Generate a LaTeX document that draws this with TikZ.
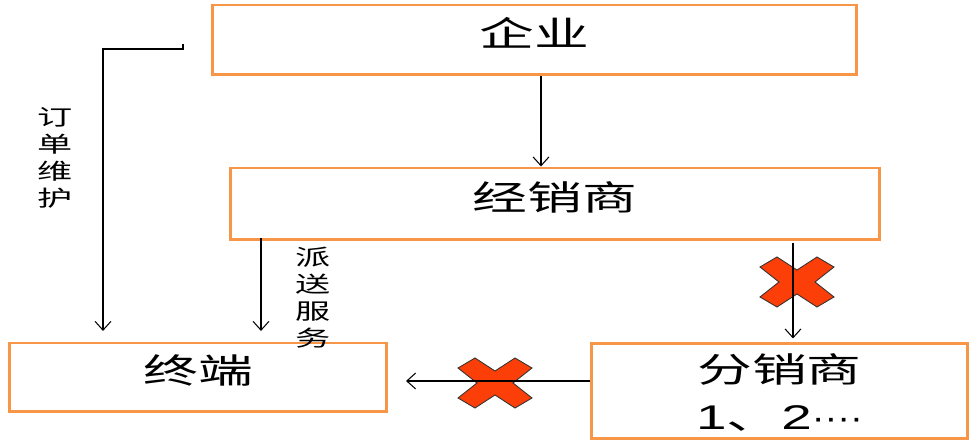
\documentclass[tikz,border=0pt]{standalone}
\usepackage{fontspec}
\newfontfamily\cjk{Noto Sans CJK SC}
\newfontfamily\latin{Liberation Sans}
\usepackage{xcolor}
\usetikzlibrary{arrows.meta,calc}

\definecolor{boxorange}{RGB}{247,150,70}
\definecolor{crossred}{RGB}{252,62,8}
\newcommand{\wide}[1]{\scalebox{1.6}[1]{#1}}
\newcommand{\boxtext}[1]{\raisebox{4pt}[\height][\depth]{\wide{#1}}}

\tikzset{
    box/.style={draw=boxorange, line width=1.7pt, align=center, inner sep=0pt,
        font={\cjk\fontsize{19.5}{26.7}\selectfont}},
    lbl/.style={align=center, inner sep=0pt, font={\cjk\fontsize{12.5}{15.4}\selectfont}},
    arr/.style={-{Straight Barb[length=5pt,width=9pt]}, line width=0.6pt},
    nogo/.pic={
        \filldraw[fill=crossred, draw=black!80, line width=0.5pt]
            (-37,-15) -- (-20,-25) -- (0,-12) -- (20,-25) -- (37,-15) -- (18,0)
            -- (37,15) -- (20,25) -- (0,12) -- (-20,25) -- (-37,15) -- (-18,0) -- cycle;
    }
}

\begin{document}
\begin{tikzpicture}[x=0.02cm, y=-0.02cm]
    \useasboundingbox (0,0) rectangle (975,442);

    % boxes
    \node[box, minimum width=12.9cm, minimum height=1.4cm] (qy) at (534.5,40) {\boxtext{企业}};
    \node[box, minimum width=13cm, minimum height=1.44cm] (jxs) at (555,204) {\boxtext{经销商}};
    \node[box, minimum width=7.56cm, minimum height=1.38cm] (zd) at (198,377.5) {\boxtext{终端}};
    \node[box, minimum width=7.54cm, minimum height=1.9cm] (fxs) at (779.5,391)
        {\raisebox{-3pt}[\height][\depth]{\begin{tabular}{@{}c@{}}
            \wide{分销商}\\
            \wide{{\latin 1}、{\latin 2\scalebox{0.7}[1]{····}}}
        \end{tabular}}};

    % blocked channels
    \pic at (797,282) {nogo};
    \pic at (495,383) {nogo};

    % 企业 -> 经销商
    \draw[arr] ($(qy.south)+(6.5,0)$) coordinate (q1) -- (q1 |- jxs.north);

    % order upkeep, from the side of 企业 down to 终端
    \coordinate (ord) at (183,44);
    \coordinate (ordturn) at (103,49);
    \draw[arr, shorten >=6pt] (ord) |- (ordturn) -- (ordturn |- zd.north);
    \node[lbl] (order) at (55,158) {\wide{订}\\\wide{单}\\\wide{维}\\\wide{护}};

    % delivery service
    \draw[arr, shorten >=6pt] ($(jxs.south)+(-294,-3)$) coordinate (ps) -- (ps |- zd.north);
    \node[lbl] (deliver) at (313,298) {\wide{派}\\\wide{送}\\\wide{服}\\\wide{务}};

    % 经销商 -> 分销商
    \draw[arr, shorten >=2pt] ($(jxs.south)+(238,2)$) coordinate (fx) -- (fx |- fxs.north);

    % 分销商 -> 终端
    \draw[arr, shorten >=10pt] ($(fxs.west)+(0,-10)$) coordinate (zx) -- (zx -| zd.east);
\end{tikzpicture}
\end{document}
